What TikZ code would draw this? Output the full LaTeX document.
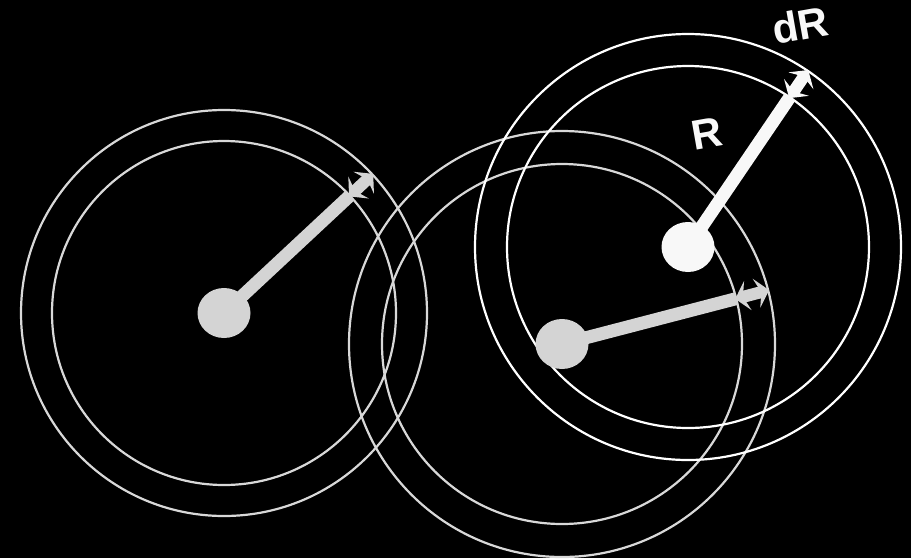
\documentclass[tikz,border=0pt]{standalone}
\usepackage{fontspec}
\setmainfont{Liberation Sans}
\usetikzlibrary{arrows.meta,shapes.geometric,calc}
\definecolor{softgray}{HTML}{D8D8D8}
\definecolor{dotgray}{HTML}{D4D4D4}
\definecolor{brightwhite}{HTML}{F8F8F8}
\tikzset{
  ring/.style={line width=2.2pt},
  dot/.style={ellipse, inner sep=0pt, minimum width=53pt, minimum height=50pt},
  shaft/.style={line width=13pt},
  dbl/.style={line width=12pt, {Stealth[length=13pt,width=30pt,inset=5pt]}-{Stealth[length=13pt,width=30pt,inset=5pt]}, shorten <=-1pt, shorten >=-1pt},
  lbl/.style={text=brightwhite, font=\bfseries\fontsize{42}{42}\selectfont, inner sep=0pt, rotate=10}
}
\begin{document}
\begin{tikzpicture}[x=1pt,y=-1pt]
\fill[black] (0,0) rectangle (911,558);
\useasboundingbox (0,0) rectangle (911,558);
% centres
\coordinate (c1) at (224,313);
\coordinate (c2) at (562,344);
\coordinate (c3) at (688,247);
% rings
\draw[ring, softgray] (c1) circle[radius=172];
\draw[ring, softgray] (c1) circle[radius=203];
\draw[ring, softgray] (c2) circle[radius=180];
\draw[ring, softgray] (c2) circle[radius=213];
\draw[ring, white] (c3) circle[radius=181];
\draw[ring, white] (c3) circle[radius=213];
% arrow end points
\coordinate (i1) at ($(c1)+(-43:172)$);
\coordinate (o1) at ($(c1)+(-43:203)$);
\coordinate (i2) at ($(c2)+(-14.6:180)$);
\coordinate (o2) at ($(c2)+(-14.6:213)$);
\coordinate (i3) at ($(c3)+(-55.8:181)$);
\coordinate (o3) at ($(c3)+(-55.8:213)$);
% dots
\node[dot, fill=dotgray] (d1) at (c1) {};
\node[dot, fill=dotgray] (d2) at (c2) {};
\node[dot, fill=brightwhite] (d3) at (c3) {};
% shafts
\draw[shaft, dotgray] (d1.center) -- (i1);
\draw[dbl, dotgray] (i1) -- (o1);
\draw[shaft, dotgray] (d2.center) -- (i2);
\draw[dbl, dotgray] (i2) -- (o2);
\draw[shaft, brightwhite] (d3.center) -- (i3);
\draw[dbl, brightwhite] (i3) -- (o3);
% labels
\node[lbl] (R) at (707,134) {R};
\node[lbl] (dR) at (800,25) {dR};
\end{tikzpicture}
\end{document}
